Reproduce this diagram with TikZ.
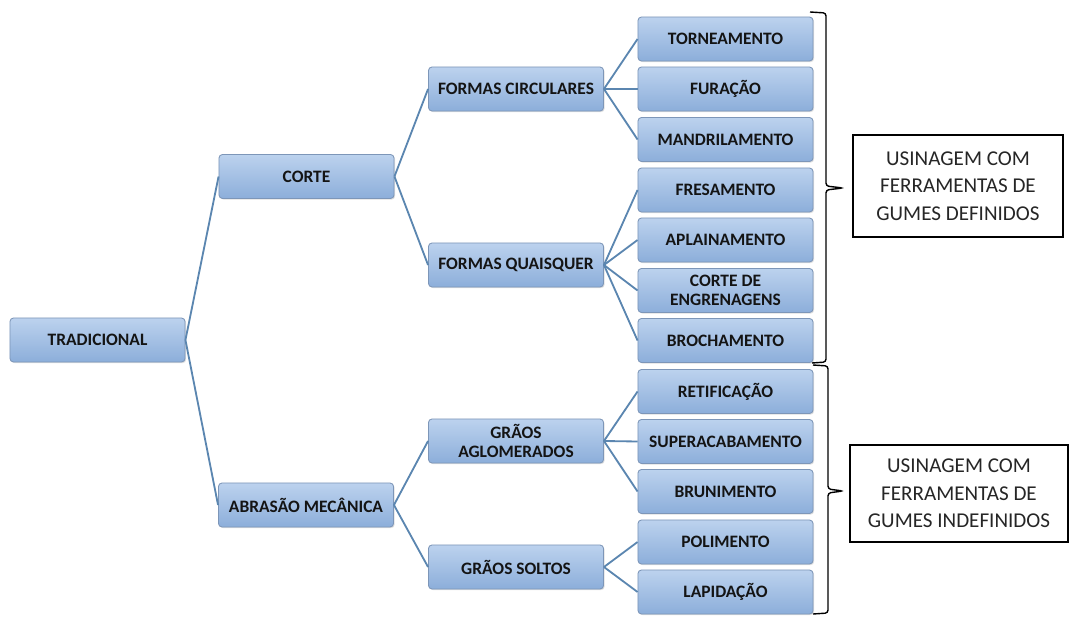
\documentclass[tikz,border=0pt]{standalone}
\usepackage{fontspec}
\setmainfont{Carlito}
\usetikzlibrary{shadows}
\definecolor{boxtop}{HTML}{BCD2EE}
\definecolor{boxbot}{HTML}{8CAEDA}
\definecolor{boxline}{HTML}{7D96B8}
\definecolor{linkcol}{HTML}{5B86B0}
\begin{document}
\begin{tikzpicture}[x=0.025cm,y=-0.025cm,
  proc/.style={draw=boxline,line width=0.6pt,rounded corners=2.5pt,top color=boxtop,bottom color=boxbot,
    minimum width=4.375cm,minimum height=1.1cm,inner sep=1pt,align=center,
    font=\fontsize{12.4}{13.8}\selectfont\bfseries,text=black!92,
    drop shadow={shadow xshift=0.8pt,shadow yshift=-0.8pt,opacity=0.25}},
  link/.style={draw=linkcol,line width=1.3pt},
  note/.style={draw=black,line width=0.8pt,fill=white,align=center,inner sep=2pt,
    font=\fontsize{15}{19.5}\selectfont,text=black!85,
    drop shadow={shadow xshift=1pt,shadow yshift=-1pt,fill=black!70,opacity=1}},
  brack/.style={draw=black,line width=1pt,rounded corners=2pt}]
\useasboundingbox (0,0) rectangle (1072,617);
% raiz e ramos
\node[proc] (trad) at (97.5,340) {TRADICIONAL};
\node[proc] (corte) at (306.5,176.5) {CORTE};
\node[proc] (abras) at (306,505) {ABRAS\~AO MEC\^ANICA};
\node[proc] (fcirc) at (516,89) {FORMAS CIRCULARES};
\node[proc] (fquai) at (516,265) {FORMAS QUAISQUER};
\node[proc] (gaglo) at (516,441) {GR\~AOS\\AGLOMERADOS};
\node[proc] (gsolt) at (516,567) {GR\~AOS SOLTOS};
% operacoes
\foreach \n/\y/\t in {torn/39/TORNEAMENTO, fura/89/FURA\c{C}\~AO, mand/139.5/MANDRILAMENTO,
  fres/190/FRESAMENTO, apla/240/APLAINAMENTO, ceng/290.5/{CORTE DE\\ENGRENAGENS},
  broc/340.5/BROCHAMENTO, reti/391.5/RETIFICA\c{C}\~AO, supe/441.5/SUPERACABAMENTO,
  brun/491.5/BRUNIMENTO, poli/542/POLIMENTO, lapi/592/LAPIDA\c{C}\~AO}
{
    \node[proc] (\n) at (725.5,\y) {\t};
}
\foreach \a/\b in {trad/corte, trad/abras, corte/fcirc, corte/fquai, abras/gaglo, abras/gsolt,
  fcirc/torn, fcirc/fura, fcirc/mand, fquai/fres, fquai/apla, fquai/ceng, fquai/broc,
  gaglo/reti, gaglo/supe, gaglo/brun, gsolt/poli, gsolt/lapi}
{
    \draw[link](\a.east)--(\b.west);
}
% chaves
\draw[brack](810,12)--(826,13)--(826,186)--(843,188)--(826,190)--(826,362)--(812,363);
\draw[brack](813,365)--(828,366)--(828,489)--(843,491)--(828,493)--(828,613)--(813,614);
\node[note,minimum width=5.25cm,minimum height=2.55cm] (def) at (958,186) {USINAGEM COM\\FERRAMENTAS DE\\GUMES DEFINIDOS};
\node[note,minimum width=5.45cm,minimum height=2.425cm] (indef) at (959,493.5) {USINAGEM COM\\FERRAMENTAS DE\\GUMES INDEFINIDOS};
\end{tikzpicture}
\end{document}
